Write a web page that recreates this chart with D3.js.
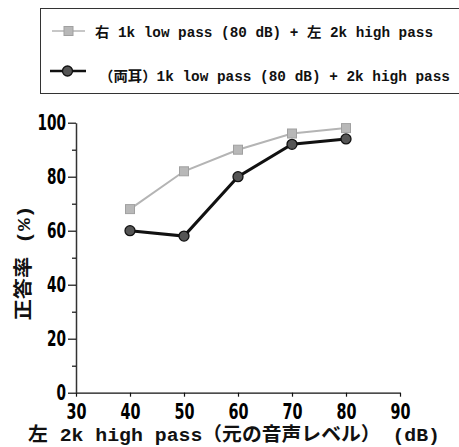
<!DOCTYPE html>
<html>
<head>
<meta charset="utf-8">
<script src="https://cdn.jsdelivr.net/npm/d3@7/dist/d3.min.js"></script>
<style>
  html, body { margin: 0; padding: 0; background: #fff; }
  svg { display: block; }
  .num { font-family: "DejaVu Sans", sans-serif; font-weight: bold; }
  .mix { font-family: "Liberation Mono", "Noto Sans CJK JP", monospace; font-weight: 600; }
</style>
</head>
<body>
<svg id="chart" width="459" height="447"></svg>
<script>
// Level of the left-ear 2k high-pass signal (dB)
const levels = [40, 50, 60, 70, 80];
// Percent correct: right 1k low pass (80 dB) + left 2k high pass
const splitEars = [68, 82, 90, 96, 98];
// Percent correct: both ears 1k low pass (80 dB) + 2k high pass
const bothEars = [60, 58, 80, 92, 94];

const xTicks = [30, 40, 50, 60, 70, 80, 90];
const yTicks = [0, 20, 40, 60, 80, 100];
const yMinorTicks = [10, 30, 50, 70, 90];

const seriesNames = [
  "右 1k low pass (80 dB) + 左 2k high pass",
  "（両耳）1k low pass (80 dB) + 2k high pass"
];
const xTitle = "左 2k high pass（元の音声レベル） (dB)";
const yTitle = "正答率 (%)";

const svg = d3.select("#chart");

const x = d3.scaleLinear().domain([30, 90]).range([76, 400]);
const y = d3.scaleLinear().domain([0, 100]).range([392.7, 122.7]);

// Narrow tick numerals: squeeze each label to a fixed width per digit
function narrowDigits(sel, perDigit) {
  sel.each(function () {
    const t = d3.select(this);
    t.attr("textLength", t.text().length * perDigit).attr("lengthAdjust", "spacingAndGlyphs");
  });
}

// Axes
const gx = svg.append("g").attr("transform", `translate(0,${y(0)})`)
  .call(d3.axisBottom(x).tickValues(xTicks).tickSize(4).tickSizeOuter(0));
gx.select(".domain").attr("stroke", "#111").attr("stroke-width", 1.3);
gx.selectAll(".tick line").attr("stroke", "#111").attr("stroke-width", 1.2);
gx.selectAll(".tick text").attr("class", "num").attr("font-size", 21).attr("fill", "#000")
  .attr("y", 11.5).attr("dy", "0.71em").call(narrowDigits, 10);

const gy = svg.append("g").attr("transform", `translate(${x(30)},0)`)
  .call(d3.axisLeft(y).tickValues(yTicks).tickSize(8).tickSizeOuter(0).tickPadding(2));
gy.select(".domain").attr("stroke", "#333").attr("stroke-width", 1.5);
gy.selectAll(".tick line").attr("stroke", "#111").attr("stroke-width", 1.2);
gy.selectAll(".tick text").attr("class", "num").attr("font-size", 21).attr("fill", "#000")
  .call(narrowDigits, 9.5);

const gyMinor = svg.append("g").attr("transform", `translate(${x(30)},0)`)
  .call(d3.axisLeft(y).tickValues(yMinorTicks).tickSize(4).tickFormat(""));
gyMinor.select(".domain").remove();
gyMinor.selectAll(".tick line").attr("stroke", "#111").attr("stroke-width", 1.2);

// Axis titles
svg.append("text").attr("class", "mix")
  .attr("x", 28).attr("y", 441)
  .attr("font-size", 19).attr("fill", "#111")
  .attr("textLength", 412).attr("lengthAdjust", "spacingAndGlyphs")
  .text(xTitle);

svg.append("text").attr("class", "mix")
  .attr("transform", "translate(30,263) rotate(-90)")
  .attr("text-anchor", "middle")
  .attr("font-size", 19).attr("fill", "#111")
  .attr("textLength", 115).attr("lengthAdjust", "spacingAndGlyphs")
  .text(yTitle);

// Series lines and markers
const line = d3.line().x((d, i) => x(levels[i])).y(d => y(d));

svg.append("path").datum(splitEars)
  .attr("d", line).attr("fill", "none")
  .attr("stroke", "#b4b4b4").attr("stroke-width", 2);

svg.append("path").datum(bothEars)
  .attr("d", line).attr("fill", "none")
  .attr("stroke", "#111").attr("stroke-width", 3);

svg.selectAll(".sq").data(splitEars).join("rect")
  .attr("class", "sq")
  .attr("x", (d, i) => x(levels[i]) - 4.5).attr("y", d => y(d) - 4.5)
  .attr("width", 9).attr("height", 9)
  .attr("fill", "#b8b8b8").attr("stroke", "#a0a0a0").attr("stroke-width", 1);

svg.selectAll(".dot").data(bothEars).join("circle")
  .attr("class", "dot")
  .attr("cx", (d, i) => x(levels[i])).attr("cy", d => y(d))
  .attr("r", 5)
  .attr("fill", "#555").attr("stroke", "#111").attr("stroke-width", 1.3);

// Legend
const legend = svg.append("g");
legend.append("rect")
  .attr("x", 40.5).attr("y", 8.5).attr("width", 440).attr("height", 85)
  .attr("fill", "none").attr("stroke", "#333").attr("stroke-width", 1);

legend.append("line").attr("x1", 52).attr("x2", 85).attr("y1", 31).attr("y2", 31)
  .attr("stroke", "#b4b4b4").attr("stroke-width", 1.5);
legend.append("rect").attr("x", 64).attr("y", 26.5).attr("width", 9).attr("height", 9)
  .attr("fill", "#b8b8b8").attr("stroke", "#a0a0a0");
legend.append("text").attr("class", "mix")
  .attr("x", 95).attr("y", 37).attr("font-size", 14).attr("fill", "#111")
  .attr("textLength", 338).attr("lengthAdjust", "spacingAndGlyphs")
  .text(seriesNames[0]);

legend.append("line").attr("x1", 50).attr("x2", 86).attr("y1", 71).attr("y2", 71)
  .attr("stroke", "#111").attr("stroke-width", 2.5);
legend.append("circle").attr("cx", 67.5).attr("cy", 71).attr("r", 5)
  .attr("fill", "#555").attr("stroke", "#111").attr("stroke-width", 1.3);
legend.append("text").attr("class", "mix")
  .attr("x", 99).attr("y", 81).attr("font-size", 14).attr("fill", "#111")
  .attr("textLength", 351).attr("lengthAdjust", "spacingAndGlyphs")
  .text(seriesNames[1]);
</script>
</body>
</html>
